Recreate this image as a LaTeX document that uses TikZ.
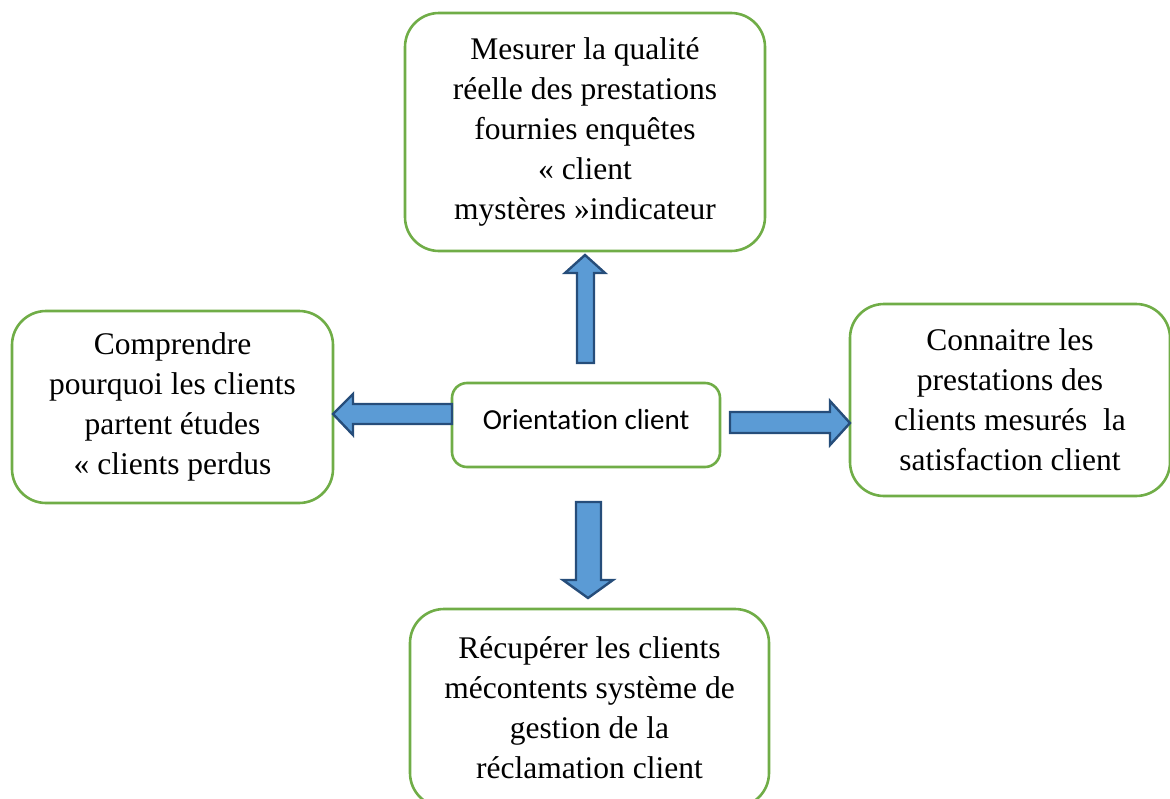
\documentclass[tikz,border=0pt]{standalone}
\usepackage{fontspec}
\setmainfont{Liberation Serif}
\newfontfamily\calibrilike[Ligatures=NoCommon]{Carlito}
\definecolor{boxgreen}{HTML}{70AD47}
\definecolor{arrowfill}{HTML}{5B9BD5}
\definecolor{arrowline}{HTML}{264D7A}
\begin{document}
\begin{tikzpicture}[x=1pt,y=-1pt,
  goal/.style={draw=boxgreen, line width=2.6pt, rounded corners=34pt, fill=white,
    align=center, inner sep=0pt, font=\fontsize{31.5}{40}\selectfont},
  hub/.style={draw=boxgreen, line width=2.6pt, rounded corners=15pt, fill=white,
    align=center, inner sep=0pt, font=\calibrilike\fontsize{29}{34}\selectfont},
  blockarrow/.style={draw=arrowline, fill=arrowfill, line width=2.4pt, line join=miter}]
\useasboundingbox (0,0) rectangle (1170,798);
\begin{scope}
\clip (0,0) rectangle (1170,798);

% outer goals
\node[goal, minimum width=360pt, minimum height=238pt] (top) at (585,132)
  {Mesurer la qualité\\réelle des prestations\\fournies enquêtes\\« client\\mystères »indicateur};
\node[goal, minimum width=321pt, minimum height=192pt] (left) at (172.5,407)
  {Comprendre\\pourquoi les clients\\partent études\\« clients perdus};
\node[goal, minimum width=320pt, minimum height=192pt] (right) at (1010,400)
  {Connaitre les\\prestations des\\clients mesurés~ la\\satisfaction client};
\node[goal, minimum width=359pt, minimum height=198pt] (bottom) at (589.5,708)
  {Récupérer les clients\\mécontents système de\\gestion de la\\réclamation client};

% central node
\node[hub, minimum width=268pt, minimum height=84pt] (hub) at (586,425)
  {\raisebox{12pt}{Orientation client}};

% block arrows from the hub to each goal
\draw[blockarrow] (577,363) -- (577,273) -- (565,273) -- (585,255) -- (605,273)
  -- (594,273) -- (594,363) -- cycle;
\draw[blockarrow] (576,502) -- (601,502) -- (601,580) -- (613,580) -- (588,598)
  -- (563,580) -- (576,580) -- cycle;
\draw[blockarrow] (452,404) -- (353,404) -- (353,394) -- (333,414) -- (353,435)
  -- (353,424) -- (452,424) -- cycle;
\draw[blockarrow] (730,412) -- (830,412) -- (830,401) -- (850,423) -- (830,445)
  -- (830,433) -- (730,433) -- cycle;
\end{scope}
\end{tikzpicture}
\end{document}
